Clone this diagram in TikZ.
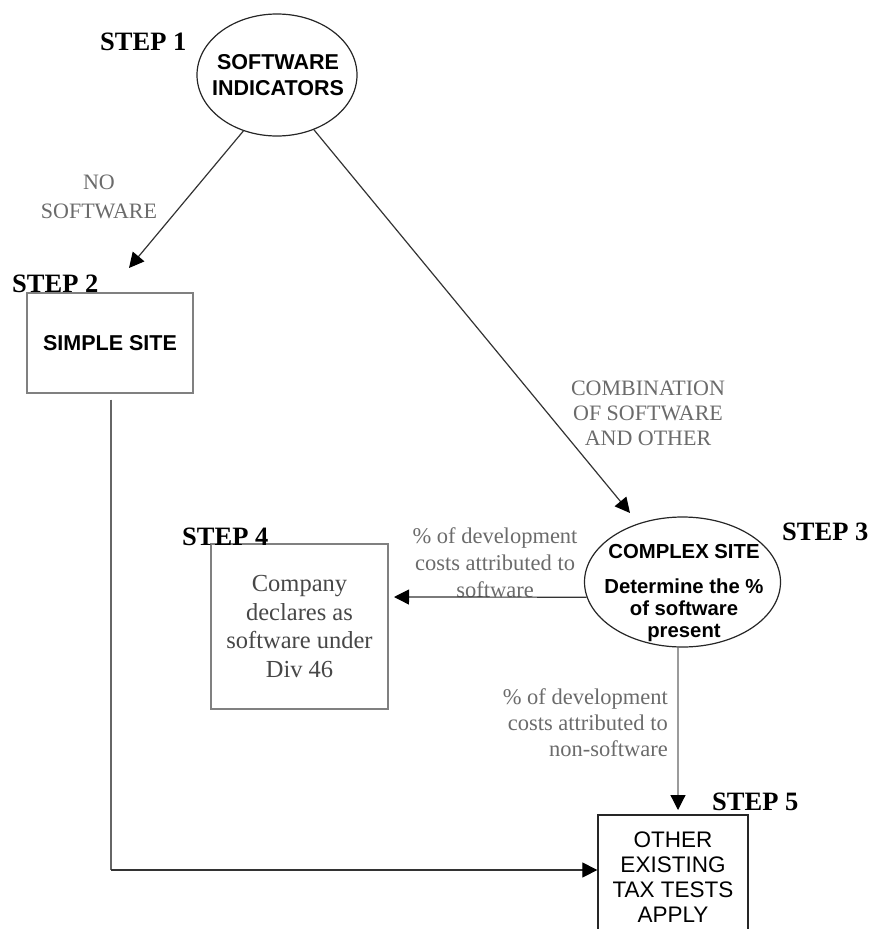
\documentclass[tikz,border=0pt]{standalone}
\usepackage{fontspec}
\setmainfont{Liberation Serif}
\setsansfont{Liberation Sans}
\usetikzlibrary{shapes.geometric,arrows.meta}
\begin{document}
\begin{tikzpicture}[x=1pt,y=-1pt,
  stepl/.style={font=\fontsize{26.5}{26.5}\selectfont\bfseries, anchor=base west, inner sep=0pt},
  lbl/.style={text=black!58, align=center, inner sep=0pt},
  ell/.style={draw=black!85, line width=1.2pt, ellipse, inner sep=0pt},
  etext/.style={font=\fontsize{21.5}{26}\selectfont\sffamily\bfseries, align=center, inner sep=0pt},
  boxg/.style={draw=black!50, line width=1.2pt, rectangle, inner sep=0pt},
  boxk/.style={draw=black!85, line width=1.3pt, rectangle, inner sep=0pt},
  conn/.style={draw=black!80, line width=1.2pt, -{Triangle[length=15pt,width=15pt,fill=black,color=black]}},
  plain/.style={draw=black!60, line width=1.2pt}
]
\useasboundingbox (0,0) rectangle (871,929);
\clip (0,0) rectangle (871,929);

% nodes
\node[ell, minimum width=160pt, minimum height=122pt] (e1) at (277,75) {};
\node[etext] (e1t) at (278,75) {SOFTWARE\\INDICATORS};

\node[boxg, minimum width=166pt, minimum height=100pt,
      font=\fontsize{21.5}{26}\selectfont\sffamily\bfseries] (box2) at (110,343) {SIMPLE SITE};

\node[ell, minimum width=196pt, minimum height=130pt] (e3) at (682.5,582) {};
\node[etext, font=\fontsize{20.3}{22}\selectfont\sffamily\bfseries] (e3t) at (684,593)
  {COMPLEX SITE\\[13pt]Determine the \%\\of software\\present};

\node[boxg, minimum width=177pt, minimum height=165pt, align=center,
      text=black!72, font=\fontsize{24.5}{28.5}\selectfont] (box4) at (299.5,626.5)
  {Company\\declares as\\software under\\Div 46};

\node[boxk, minimum width=150pt, minimum height=124pt, align=center,
      font=\fontsize{22.5}{25}\selectfont\sffamily] (box5) at (673,877)
  {OTHER\\EXISTING\\TAX TESTS\\APPLY};

% step labels
\node[stepl] (s1) at (100,50) {STEP 1};
\node[stepl] (s2) at (12,292) {STEP 2};
\node[stepl] (s3) at (782,540) {STEP 3};
\node[stepl] (s4) at (182,545) {STEP 4};
\node[stepl] (s5) at (712,810) {STEP 5};

% edge labels
\node[lbl, font=\fontsize{22}{29}\selectfont] (l12) at (99,197) {NO\\SOFTWARE};
\node[lbl, font=\fontsize{22}{25}\selectfont] (l13) at (648,413) {COMBINATION\\OF SOFTWARE\\AND OTHER};
\node[lbl, font=\fontsize{22.5}{27}\selectfont] (l34) at (495,563) {\% of development\\costs attributed to\\software};
\node[lbl, font=\fontsize{22.5}{26}\selectfont, align=right, anchor=east] (l35) at (668,723) {\% of development\\costs attributed to\\non-software};

% free ends of arrows
\coordinate (a2end) at (129,268);
\coordinate (a3end) at (630,513);
\coordinate (a4end) at (394,597);
\coordinate (a5end) at (678,810);
\coordinate (b2turn) at (111,870);

% connectors
\draw[conn] (e1.239) -- (a2end);
\draw[conn] (e1.304) -- (a3end);
\draw[conn] (e3.189) -- (a4end);
\draw[conn, draw=black!60] (e3.266) -- (a5end);
\draw[plain] ([xshift=1pt,yshift=-6pt]box2.south) -- (b2turn);
\draw[conn] (b2turn) -- (box5.west |- b2turn);
\end{tikzpicture}
\end{document}
